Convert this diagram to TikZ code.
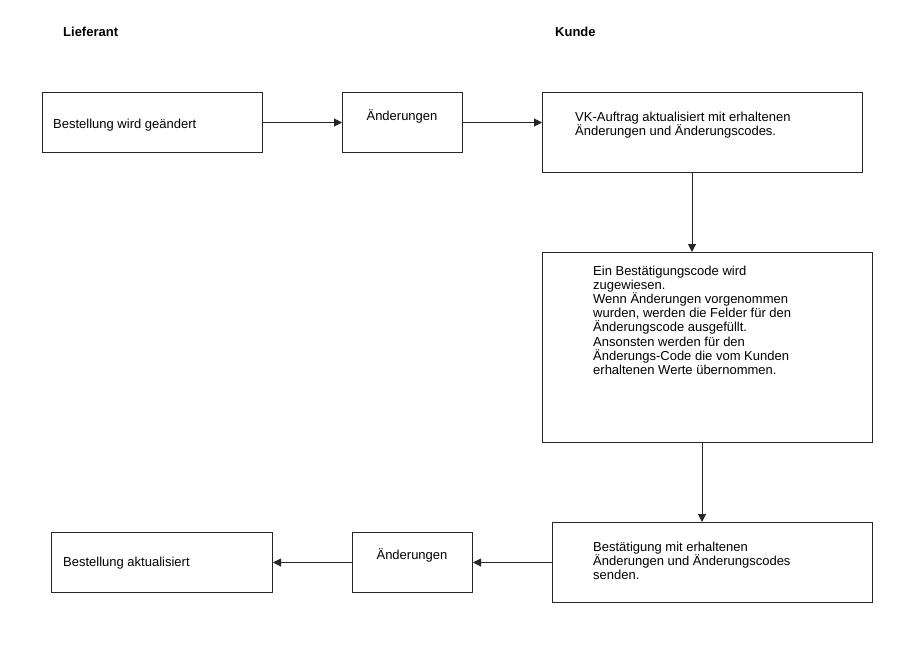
\documentclass[tikz,border=0pt]{standalone}
\usepackage{fontspec}
\setmainfont{Liberation Sans}
\usetikzlibrary{arrows.meta}
\begin{document}
\begin{tikzpicture}[x=1pt,y=-1pt,
  box/.style={draw=black!85, line width=1pt, inner sep=0pt, anchor=north west},
  txt/.style={inner sep=0pt, align=left, font=\fontsize{13}{14.2}\selectfont},
  hdr/.style={inner sep=0pt, anchor=base west, font=\fontsize{13}{14}\selectfont\bfseries},
  flow/.style={draw=black!85, line width=1pt, -{Triangle[length=8pt,width=8pt]}}]
\useasboundingbox (0,0) rectangle (905,659);
\node[hdr] (hl) at (63,36) {Lieferant};
\node[hdr] (hk) at (555,36) {Kunde};
% boxes
\node[box, minimum width=220pt, minimum height=60pt] (b1) at (42,92) {};
\node[box, minimum width=120pt, minimum height=60pt] (b2) at (342,92) {};
\node[box, minimum width=320pt, minimum height=80pt] (b3) at (542,92) {};
\node[box, minimum width=330pt, minimum height=190pt] (b4) at (542,252) {};
\node[box, minimum width=320pt, minimum height=80pt] (b5) at (552,522) {};
\node[box, minimum width=221pt, minimum height=60pt] (b6) at (51,532) {};
\node[box, minimum width=120pt, minimum height=60pt] (b7) at (352,532) {};
% texts (anchor base = baseline of the last line)
\node[txt, anchor=base west] (t1) at (53,128) {Bestellung wird geändert};
\node[txt, anchor=base] (t2) at (402,120) {Änderungen};
\node[txt, anchor=base west] (t3) at (575,135.2) {VK-Auftrag aktualisiert mit erhaltenen\\Änderungen und Änderungscodes.};
\node[txt, anchor=base west] (t4) at (593,374.4) {Ein Bestätigungscode wird\\zugewiesen.\\Wenn Änderungen vorgenommen\\wurden, werden die Felder für den\\Änderungscode ausgefüllt.\\Ansonsten werden für den\\Änderungs-Code die vom Kunden\\erhaltenen Werte übernommen.};
\node[txt, anchor=base west] (t5) at (593,579.4) {Bestätigung mit erhaltenen\\Änderungen und Änderungscodes\\senden.};
\node[txt, anchor=base west] (t6) at (63,566) {Bestellung aktualisiert};
\node[txt, anchor=base] (t7) at (412,559) {Änderungen};
% connectors
\draw[flow] (b1.east) -- (b2.west);
\draw[flow] (b2.east) -- (b3.west |- b2.east);
\draw[flow] (b3.south -| 692,0) -- (b4.north -| 692,0);
\draw[flow] (b4.south -| 702,0) -- (b5.north -| 702,0);
\draw[flow] (b5.west |- b7.east) -- (b7.east);
\draw[flow] (b7.west) -- (b6.east);
\end{tikzpicture}
\end{document}
